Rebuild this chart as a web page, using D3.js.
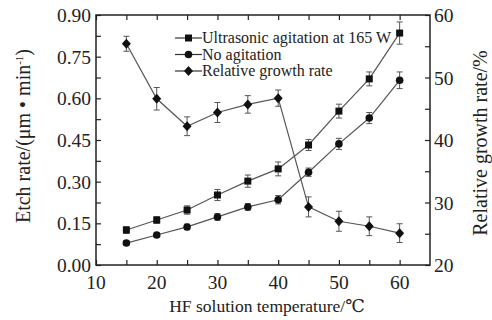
<!DOCTYPE html>
<html>
<head>
<meta charset="utf-8">
<script src="https://cdn.jsdelivr.net/npm/d3@7"></script>
<style>
  body { margin: 0; background: #fff; }
  svg text { font-family: "Liberation Serif", "DejaVu Serif", serif; fill: #222; }
</style>
</head>
<body>
<div id="chart"></div>
<script>
// temperatures (°C)
var temps = [15, 20, 25, 30, 35, 40, 45, 50, 55, 60];
// etch rate, ultrasonic agitation at 165 W (µm/min)
var ultrasonic = [0.126, 0.162, 0.198, 0.252, 0.302, 0.346, 0.432, 0.554, 0.670, 0.835];
var ultrasonicErr = [0.012, 0.012, 0.015, 0.02, 0.022, 0.025, 0.02, 0.025, 0.025, 0.04];
// etch rate, no agitation
var noAgitation = [0.079, 0.108, 0.137, 0.173, 0.209, 0.235, 0.334, 0.436, 0.529, 0.665];
var noAgitationErr = [0.008, 0.008, 0.01, 0.012, 0.012, 0.015, 0.015, 0.02, 0.02, 0.03];
// relative growth rate (%)
var growth = [55.4, 46.6, 42.2, 44.4, 45.7, 46.7, 29.3, 27.0, 26.2, 25.1];
var growthErr = [1.2, 1.8, 1.5, 1.6, 1.4, 1.3, 1.6, 1.6, 1.5, 1.5];

var xTicks = [10, 20, 30, 40, 50, 60];
var yLeftTicks = [0, 0.15, 0.30, 0.45, 0.60, 0.75, 0.90];
var yRightTicks = [20, 30, 40, 50, 60];

var width = 492, height = 320;
var m = {left: 96, right: 62, top: 15, bottom: 55};
var serif = "'Liberation Serif', 'DejaVu Serif', serif";

var svg = d3.select("#chart").append("svg")
  .attr("width", width).attr("height", height);

var x = d3.scaleLinear().domain([10, 65]).range([m.left, width - m.right]);
var yL = d3.scaleLinear().domain([0, 0.9]).range([height - m.bottom, m.top]);
var yR = d3.scaleLinear().domain([20, 60]).range([height - m.bottom, m.top]);

var x0 = m.left, x1 = width - m.right, y0 = height - m.bottom, y1 = m.top;

// axes (ticks point inward)
svg.append("g").attr("transform", "translate(0," + y0 + ")")
  .call(d3.axisTop(x).tickValues(d3.range(10, 65, 5)).tickSize(5).tickFormat(""));
svg.append("g").attr("transform", "translate(0," + y1 + ")")
  .call(d3.axisBottom(x).tickValues(d3.range(10, 65, 5)).tickSize(5).tickFormat(""));
svg.append("g").attr("transform", "translate(" + x0 + ",0)")
  .call(d3.axisRight(yL).tickValues(d3.range(0, 0.91, 0.075)).tickSize(5).tickFormat(""));
svg.append("g").attr("transform", "translate(" + x1 + ",0)")
  .call(d3.axisLeft(yR).tickValues(d3.range(20, 61, 5)).tickSize(5).tickFormat(""));

svg.selectAll(".domain").remove();
svg.selectAll(".tick line").attr("stroke", "#222").attr("stroke-width", 1.2);

svg.append("rect")
  .attr("x", x0).attr("y", y1).attr("width", x1 - x0).attr("height", y0 - y1)
  .attr("fill", "none").attr("stroke", "#222").attr("stroke-width", 1.5);

// tick labels
svg.selectAll(".xl").data(xTicks).enter().append("text")
  .attr("x", function(d) { return x(d); }).attr("y", y0 + 24)
  .attr("text-anchor", "middle").attr("font-size", 19.5).attr("font-family", serif)
  .text(function(d) { return d; });
svg.selectAll(".yl").data(yLeftTicks).enter().append("text")
  .attr("x", x0 - 5).attr("y", function(d) { return yL(d) + 7; })
  .attr("text-anchor", "end").attr("font-size", 19.5).attr("font-family", serif)
  .text(function(d) { return d.toFixed(2); });
svg.selectAll(".yr").data(yRightTicks).enter().append("text")
  .attr("x", x1 + 4).attr("y", function(d) { return yR(d) + 7; })
  .attr("font-size", 19.5).attr("font-family", serif)
  .text(function(d) { return d; });

// axis titles
svg.append("text").attr("x", 267).attr("y", 312)
  .attr("text-anchor", "middle").attr("font-size", 17.5).attr("font-family", serif)
  .text("HF solution temperature/\u2103");
svg.append("text")
  .attr("transform", "translate(30,136) rotate(-90)")
  .attr("text-anchor", "middle").attr("font-size", 20).attr("font-family", serif)
  .html("Etch rate/(\u03bcm \u2022 min<tspan dy='-7' font-size='11'>-1</tspan><tspan dy='7'>)</tspan>");
svg.append("text")
  .attr("transform", "translate(487,143) rotate(-90)")
  .attr("text-anchor", "middle").attr("font-size", 20).attr("font-family", serif)
  .text("Relative growth rate/%");

// series
var series = [
  {name: "Ultrasonic agitation at 165 W", vals: ultrasonic, err: ultrasonicErr, y: yL, shape: "square"},
  {name: "No agitation", vals: noAgitation, err: noAgitationErr, y: yL, shape: "circle"},
  {name: "Relative growth rate", vals: growth, err: growthErr, y: yR, shape: "diamond"}
];

function marker(g, shape, cx, cy) {
  if (shape === "square") {
    g.append("rect").attr("x", cx - 3.5).attr("y", cy - 3.5).attr("width", 7).attr("height", 7).attr("fill", "#111");
  } else if (shape === "circle") {
    g.append("circle").attr("cx", cx).attr("cy", cy).attr("r", 3.8).attr("fill", "#111");
  } else {
    g.append("path").attr("d", "M" + cx + "," + (cy - 5) + "L" + (cx + 4.5) + "," + cy + "L" + cx + "," + (cy + 5) + "L" + (cx - 4.5) + "," + cy + "Z").attr("fill", "#111");
  }
}

series.forEach(function(s) {
  var g = svg.append("g");
  var pts = temps.map(function(t, i) { return [x(t), s.y(s.vals[i]), s.y(s.vals[i] + s.err[i]), s.y(s.vals[i] - s.err[i])]; });
  g.append("path")
    .attr("d", d3.line()(pts.map(function(p) { return [p[0], p[1]]; })))
    .attr("fill", "none").attr("stroke", "#555").attr("stroke-width", 1.2);
  pts.forEach(function(p) {
    g.append("line").attr("x1", p[0]).attr("x2", p[0]).attr("y1", p[2]).attr("y2", p[3])
      .attr("stroke", "#555").attr("stroke-width", 1);
    [p[2], p[3]].forEach(function(yy) {
      g.append("line").attr("x1", p[0] - 3).attr("x2", p[0] + 3).attr("y1", yy).attr("y2", yy)
        .attr("stroke", "#555").attr("stroke-width", 1);
    });
    marker(g, s.shape, p[0], p[1]);
  });
});

// legend
series.forEach(function(s, i) {
  var ly = 38 + i * 16.5;
  var g = svg.append("g");
  g.append("line").attr("x1", 175).attr("x2", 202).attr("y1", ly).attr("y2", ly)
    .attr("stroke", "#333").attr("stroke-width", 1.2);
  marker(g, s.shape, 188.5, ly);
  g.append("text").attr("x", 202).attr("y", ly + 5).attr("font-size", 16).attr("font-family", serif).text(s.name);
});
</script>
</body>
</html>
